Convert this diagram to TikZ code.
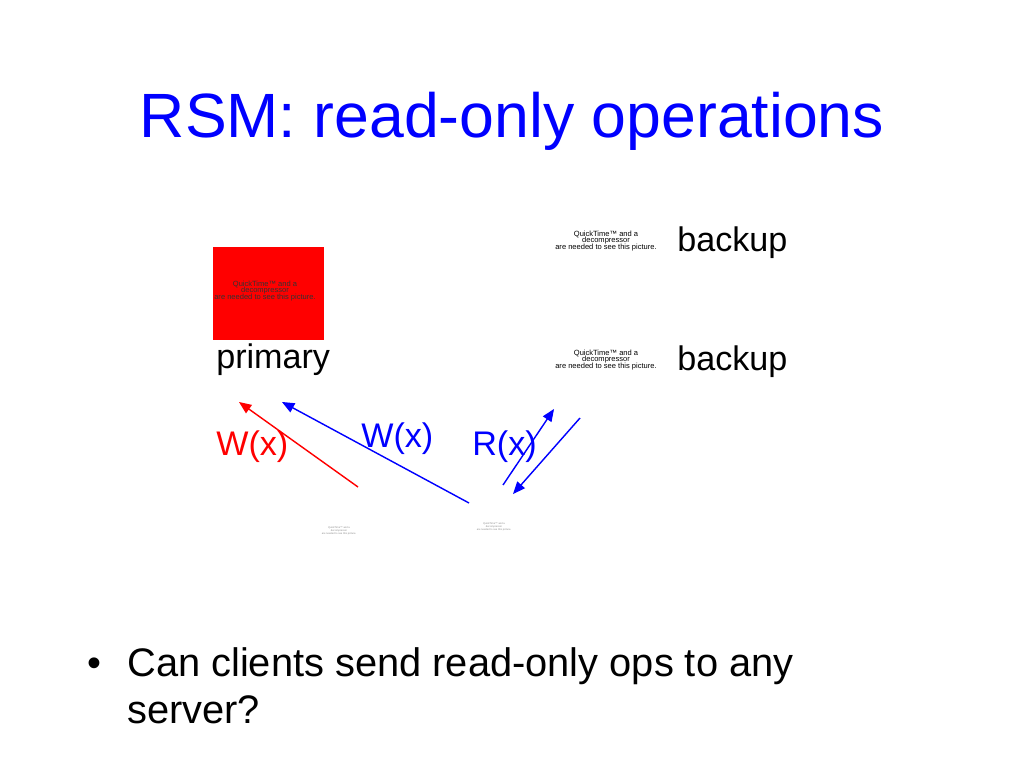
\documentclass[tikz,border=0pt]{standalone}
\usepackage{fontspec}
\setmainfont{Liberation Sans}
\usepackage{tikz}
\usetikzlibrary{arrows}
\definecolor{slideblue}{RGB}{0,0,255}
\definecolor{slidered}{RGB}{255,0,0}
\setlength{\lineskiplimit}{-10pt}
\newcommand{\qtpic}[5]{\node[align=center,inner sep=0pt,text=#5,font=\fontsize{#3bp}{#4bp}\selectfont](#1) at (#2) {QuickTime\texttrademark{} and a\\decompressor\\are needed to see this picture.};}

\begin{document}
\begin{tikzpicture}[x=0.70576pt,y=-0.70576pt]
	\useasboundingbox (0,0) rectangle (1024,768);
	\node[anchor=base,inner sep=0pt,text=slideblue,font=\fontsize{44bp}{53bp}\selectfont](title) at (512,138) {RSM: read-only operations};

	\fill[slidered] (213,247) rectangle (324,340);
	\qtpic{pic_primary}{265,291}{5.3}{4.4}{black!80}
	\node[anchor=base west,inner sep=0pt,font=\fontsize{24bp}{29bp}\selectfont](lab_primary) at (216,368) {primary};

	\qtpic{pic_backup1}{606,241}{5.3}{4.4}{black}
	\node[anchor=base west,inner sep=0pt,font=\fontsize{24bp}{29bp}\selectfont](lab_backup1) at (677,251) {backup};
	\qtpic{pic_backup2}{606,360}{5.3}{4.4}{black}
	\node[anchor=base west,inner sep=0pt,font=\fontsize{24bp}{29bp}\selectfont](lab_backup2) at (677,370) {backup};

	\qtpic{pic_client1}{339,531}{1.8}{2.1}{black!45}
	\qtpic{pic_client2}{494,527}{1.8}{2.1}{black!45}

	\coordinate (red_tail) at (358,487);
	\coordinate (red_head) at (239,402);
	\coordinate (blue_tail) at (469,503);
	\coordinate (blue_head) at (282,402);
	\coordinate (read_tail) at (503,485);
	\coordinate (read_head) at (554,409);
	\coordinate (reply_tail) at (580,418);
	\coordinate (reply_head) at (513,494);
	\draw[slidered,line width=1pt,arrows={-triangle 45}] (red_tail) -- (red_head);
	\draw[slideblue,line width=1pt,arrows={-triangle 45}] (blue_tail) -- (blue_head);
	\draw[slideblue,line width=1pt,arrows={-triangle 45}] (read_tail) -- (read_head);
	\draw[slideblue,line width=1pt,arrows={-triangle 45}] (reply_tail) -- (reply_head);

	\node[anchor=base west,inner sep=0pt,text=slidered,font=\fontsize{24bp}{29bp}\selectfont](lab_w1) at (216,455) {W(x)};
	\node[anchor=base west,inner sep=0pt,text=slideblue,font=\fontsize{24bp}{29bp}\selectfont](lab_w2) at (361,447) {W(x)};
	\node[anchor=base west,inner sep=0pt,text=slideblue,font=\fontsize{24bp}{29bp}\selectfont](lab_r) at (472,455) {R(x)};

	\node[anchor=base,inner sep=0pt,font=\fontsize{28bp}{34bp}\selectfont](bullet) at (94,676) {\textbullet};
	% base anchor of a two-line node is its last line
	\node[anchor=base west,inner sep=0pt,align=left,font=\fontsize{28bp}{33bp}\selectfont](question) at (127,723) {Can clients send read-only ops to any\\server?};
\end{tikzpicture}
\end{document}
